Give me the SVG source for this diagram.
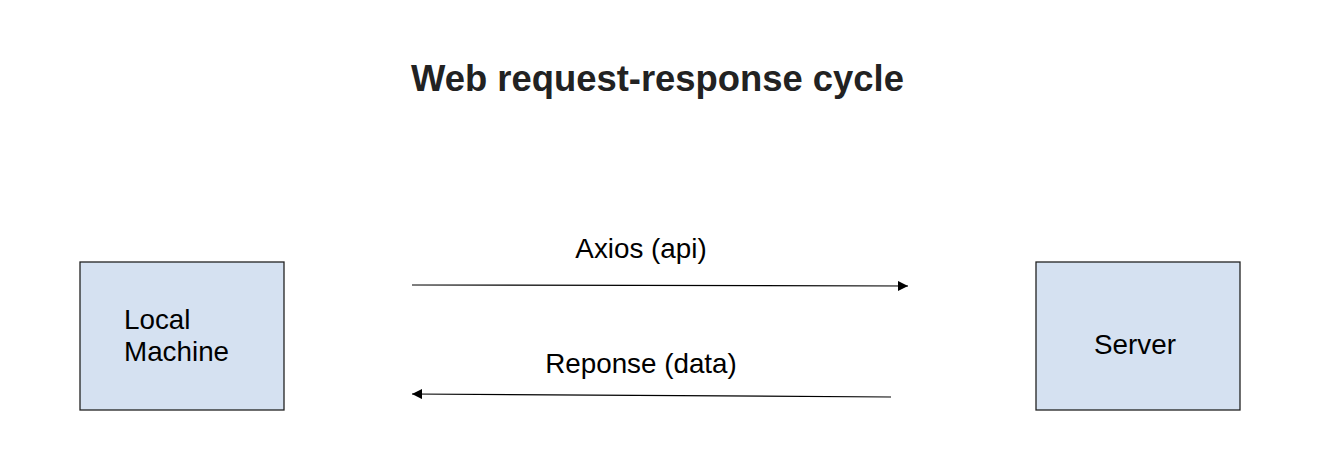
<svg xmlns="http://www.w3.org/2000/svg" width="1326" height="459" viewBox="0 0 1326 459">
<style>
.box{fill:#d5e1f1;stroke:#222;stroke-width:1.3}
.t{font-family:"Liberation Sans",Arial,sans-serif;font-size:27.8px;fill:#000}
.title{font-family:"Liberation Sans",Arial,sans-serif;font-size:36.4px;font-weight:bold;fill:#222}
.ln{stroke:#000;stroke-width:1.2;fill:none}
</style>
<defs>
<marker id="ah" viewBox="0 0 10 10" refX="10" refY="5" markerWidth="15" markerHeight="10" markerUnits="userSpaceOnUse" orient="auto"><path d="M0,0 L10,5 L0,10 Z" fill="#000"/></marker>
</defs>
<rect width="1326" height="459" fill="#fff"/>
<text class="title" x="657.5" y="91" text-anchor="middle">Web request-response cycle</text>
<g id="local">
<rect class="box" x="80" y="262" width="204" height="148"/>
<text class="t" x="124" y="329">Local</text>
<text class="t" x="124" y="361">Machine</text>
</g>
<g id="server">
<rect class="box" x="1036" y="262" width="204" height="148"/>
<text class="t" x="1135" y="354" text-anchor="middle">Server</text>
</g>
<g id="connectors">
<line class="ln" x1="412" y1="285" x2="908" y2="286" marker-end="url(#ah)"/>
<text class="t" x="641" y="258" text-anchor="middle">Axios (api)</text>
<line class="ln" x1="891" y1="397" x2="412" y2="394" marker-end="url(#ah)"/>
<text class="t" x="641" y="373" text-anchor="middle">Reponse (data)</text>
</g>
</svg>
